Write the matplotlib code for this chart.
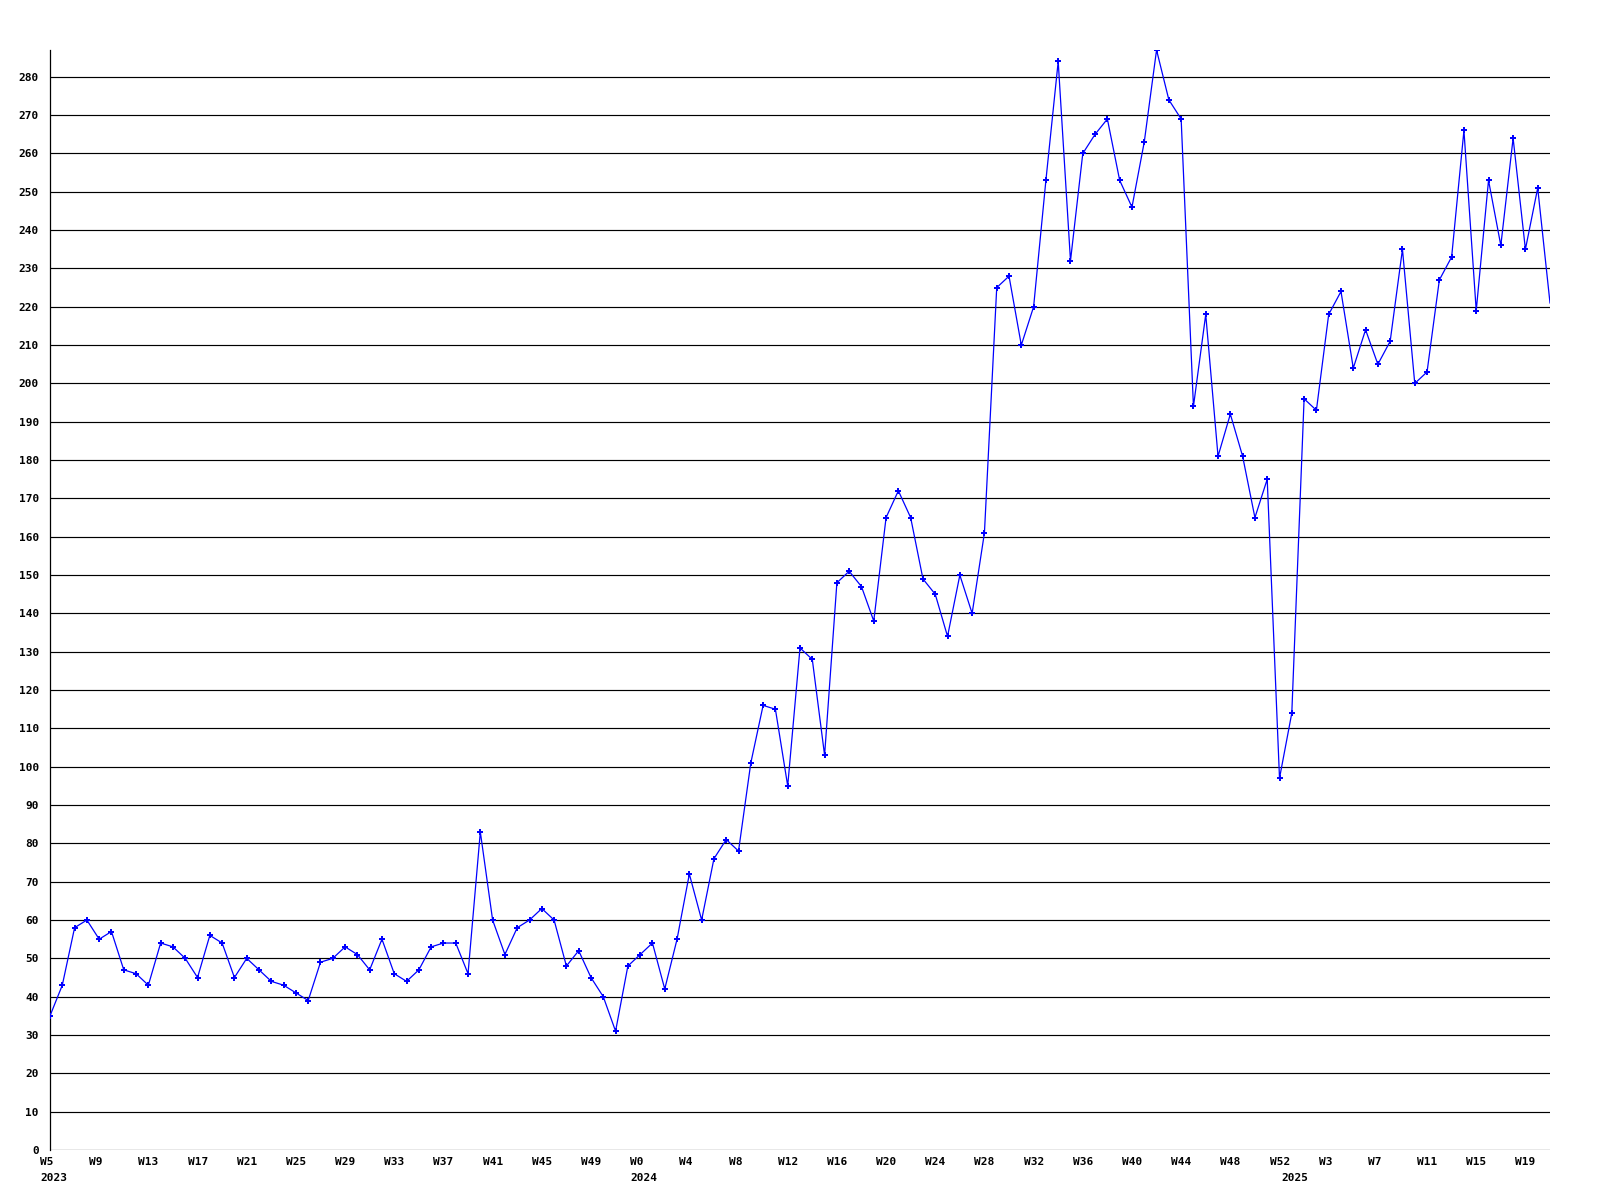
import matplotlib
matplotlib.use("Agg")
import matplotlib.pyplot as plt
import matplotlib.transforms as mtransforms

# weekly values, 2023 W5 .. 2025 W21
values = [
    35, 43, 58, 60, 55, 57, 47, 46, 43, 54, 53, 50, 45, 56, 54, 45, 50, 47, 44, 43,
    41, 39, 49, 50, 53, 51, 47, 55, 46, 44, 47, 53, 54, 54, 46, 83, 60, 51, 58, 60,
    63, 60, 48, 52, 45, 40, 31, 48, 51, 54, 42, 55, 72, 60, 76, 81, 78, 101, 116, 115,
    95, 131, 128, 103, 148, 151, 147, 138, 165, 172, 165, 149, 145, 134, 150, 140, 161, 225, 228, 210,
    220, 253, 284, 232, 260, 265, 269, 253, 246, 263, 287, 274, 269, 194, 218, 181, 192, 181, 165, 175,
    97, 114, 196, 193, 218, 224, 204, 214, 205, 211, 235, 200, 203, 227, 233, 266, 219, 253, 236, 264,
    235, 251, 221,
]

# week labels for every point, grouped by year
years = [2023, 2024, 2025]
year_weeks = [list(range(5, 53)), list(range(0, 53)), list(range(0, 22))]
weeks = ["W%d" % w for wk in year_weeks for w in wk]

x = list(range(len(values)))

fig = plt.figure(figsize=(16, 12), dpi=100)
ax = fig.add_axes([50 / 1600, 50 / 1200, 1500 / 1600, 1100 / 1200])

for v in range(0, 290, 10):
    ax.axhline(v, color="black", linewidth=0.85, zorder=1)

# last point sits on the right edge, no marker drawn there
ax.plot(x, values, color="#0000ff", linewidth=0.9, marker="P", markersize=4,
        markeredgewidth=0, markevery=list(range(len(values) - 1)), zorder=3)

ax.set_xlim(0, len(values) - 1)
ax.set_ylim(0, max(values))

for s in ["top", "right", "bottom"]:
    ax.spines[s].set_visible(False)
ax.spines["left"].set_linewidth(0.9)

font = dict(family="DejaVu Sans Mono", weight="bold", size=8)

ax.set_yticks(range(0, 290, 10))
ax.set_yticklabels([str(v) for v in range(0, 290, 10)], **font)
ax.tick_params(axis="y", length=0, pad=8)

tick_idx = list(range(0, len(values), 4))
ax.set_xticks(tick_idx)
ax.set_xticklabels([weeks[i] for i in tick_idx], **font)
ax.tick_params(axis="x", length=0, pad=5)
offset = mtransforms.ScaledTranslation(-0.10, 0, fig.dpi_scale_trans)
for lbl in ax.get_xticklabels():
    lbl.set_horizontalalignment("left")
    lbl.set_transform(lbl.get_transform() + offset)

# year labels under the first week of each year
start = 0
for yr, wk in zip(years, year_weeks):
    ax.annotate(str(yr), xy=(start, 0), xycoords=("data", "axes fraction"),
                xytext=(-7.2, -16.5), textcoords="offset points",
                ha="left", va="top", **font)
    start += len(wk)

fig.savefig("out.png", dpi=100, facecolor="white")
